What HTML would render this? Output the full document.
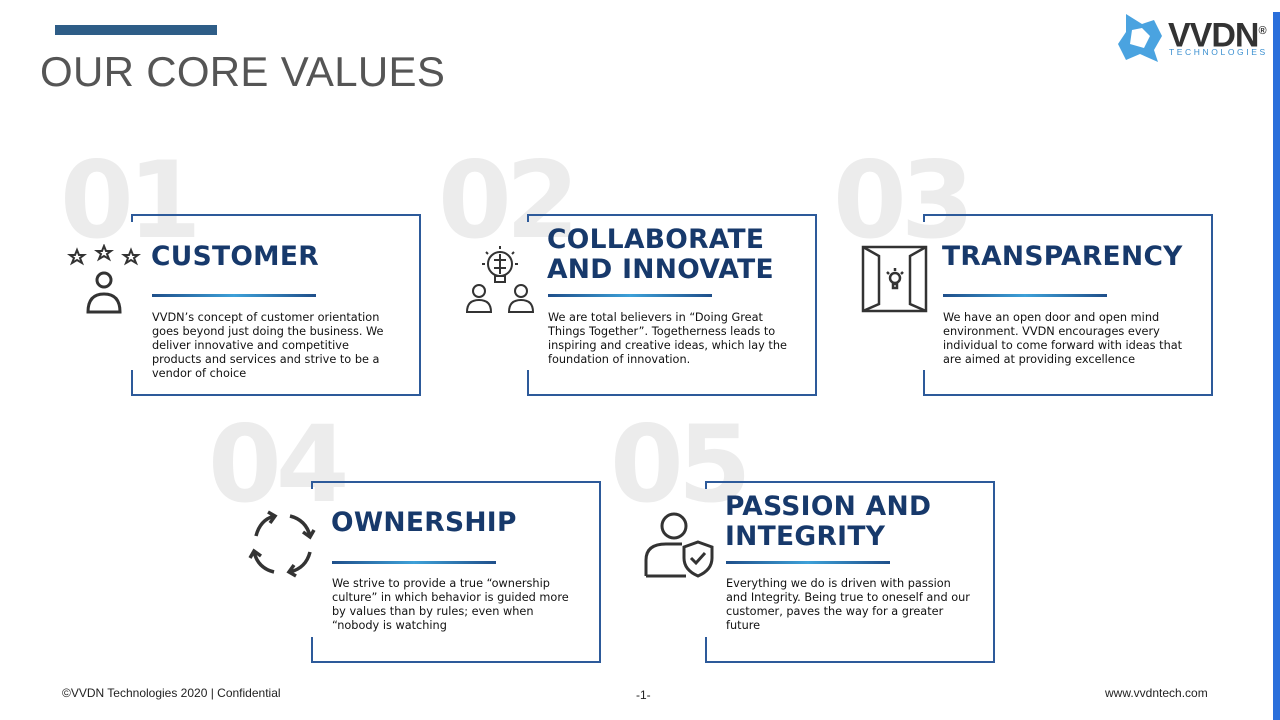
<!DOCTYPE html>
<html><head><meta charset="utf-8"><style>
*{margin:0;padding:0;box-sizing:border-box}
body{width:1280px;height:720px;background:#fff;position:relative;overflow:hidden;font-family:"Liberation Sans",sans-serif}
.abs{position:absolute}
.num{position:absolute;font-family:"DejaVu Sans","Liberation Sans",sans-serif;font-weight:bold;font-size:106px;color:#ececec;letter-spacing:-6px;line-height:1}
.card{position:absolute;width:290px;height:182px;border-top:2px solid #2d5a9a;border-right:2px solid #2d5a9a;border-bottom:2px solid #2d5a9a}
.card .lb{position:absolute;left:0;bottom:0;width:2px;height:24px;background:#2d5a9a}
.card .lt{position:absolute;left:0;top:0;width:2px;height:6px;background:#2d5a9a}
.ttl{position:absolute;font-family:"DejaVu Sans","Liberation Sans",sans-serif;font-weight:bold;font-size:26.5px;color:#17396b;line-height:30px;letter-spacing:0.3px;white-space:nowrap}
.ul{position:absolute;height:3px;width:164px;background:linear-gradient(90deg,#1f4f8a,#3da0d8,#1f4f8a)}
.txt{position:absolute;font-family:"DejaVu Sans","Liberation Sans",sans-serif;font-size:11.3px;line-height:14px;color:#111;width:248px}
</style></head><body>
<div class="abs" style="left:55px;top:25px;width:162px;height:10px;background:#2e5d87"></div>
<div class="abs" style="left:40px;top:46px;font-size:42px;color:#555;letter-spacing:0.3px;line-height:52px">OUR CORE VALUES</div>
<div class="abs" style="left:1273px;top:12px;width:7px;height:708px;background:#2a6fdb"></div>
<div class="abs" style="left:1112px;top:10px;width:160px;height:56px">
<svg width="56" height="56" viewBox="0 0 56 56" style="position:absolute;left:0;top:0"><path d="M14 4 L30 14 L42 10 L50 26 L42 40 L46 52 L28 44 L14 50 L6 34 L14 22 Z M20 20 L18 34 L32 38 L38 26 L30 18 Z" fill="#4aa3e0" fill-rule="evenodd"/></svg>
<div style="position:absolute;left:56px;top:4px;font-size:34px;font-weight:bold;color:#333;letter-spacing:-1px;line-height:34px">VVDN<sup style="font-size:11px">®</sup></div>
<div style="position:absolute;left:57px;top:37px;font-size:8.5px;color:#3a8fd0;letter-spacing:2.6px">TECHNOLOGIES</div>
</div>

<div class="num" style="left:60px;top:148px">01</div>
<div class="num" style="left:438px;top:148px">02</div>
<div class="num" style="left:833px;top:148px">03</div>
<div class="num" style="left:208px;top:412px">04</div>
<div class="num" style="left:610px;top:412px">05</div>

<div class="card" style="left:131px;top:214px"><div class="lb"></div><div class="lt"></div></div>
<div class="card" style="left:527px;top:214px"><div class="lb"></div><div class="lt"></div></div>
<div class="card" style="left:923px;top:214px"><div class="lb"></div><div class="lt"></div></div>
<div class="card" style="left:311px;top:481px"><div class="lb"></div><div class="lt"></div></div>
<div class="card" style="left:705px;top:481px"><div class="lb"></div><div class="lt"></div></div>

<div class="ttl" style="left:151px;top:242px">CUSTOMER</div>
<div class="ul" style="left:152px;top:294px"></div>
<div class="txt" style="left:152px;top:311px">VVDN’s concept of customer orientation goes beyond just doing the business. We deliver innovative and competitive products and services and strive to be a vendor of choice</div>

<div class="ttl" style="left:547px;top:225px">COLLABORATE<br>AND INNOVATE</div>
<div class="ul" style="left:548px;top:294px"></div>
<div class="txt" style="left:548px;top:311px">We are total believers in “Doing Great Things Together”. Togetherness leads to inspiring and creative ideas, which lay the foundation of innovation.</div>

<div class="ttl" style="left:942px;top:242px">TRANSPARENCY</div>
<div class="ul" style="left:943px;top:294px"></div>
<div class="txt" style="left:943px;top:311px">We have an open door and open mind environment. VVDN encourages every individual to come forward with ideas that are aimed at providing excellence</div>

<div class="ttl" style="left:331px;top:508px">OWNERSHIP</div>
<div class="ul" style="left:332px;top:561px"></div>
<div class="txt" style="left:332px;top:577px">We strive to provide a true “ownership culture” in which behavior is guided more by values than by rules; even when “nobody is watching</div>

<div class="ttl" style="left:725px;top:492px">PASSION AND<br>INTEGRITY</div>
<div class="ul" style="left:726px;top:561px"></div>
<div class="txt" style="left:726px;top:577px">Everything we do is driven with passion and Integrity. Being true to oneself and our customer, paves the way for a greater future</div>

<svg class="abs" style="left:64px;top:244px" width="80" height="74" viewBox="0 0 80 74" fill="none" stroke="#333" stroke-width="2">
<polygon points="13,6 15,11 20,11 16,14 18,19 13,16 8,19 10,14 6,11 11,11"/>
<polygon points="40,2 42,7 47,7 43,10 45,15 40,12 35,15 37,10 33,7 38,7"/>
<polygon points="67,6 69,11 74,11 70,14 72,19 67,16 62,19 64,14 60,11 65,11"/>
<circle cx="40" cy="36" r="7" stroke-width="3"/><path d="M24 68 Q24 50 40 50 Q56 50 56 68 Z" stroke-width="3"/></svg>

<svg class="abs" style="left:462px;top:244px" width="76" height="72" viewBox="0 0 76 72" fill="none" stroke="#333" stroke-width="2">
<circle cx="38" cy="20" r="12"/><path d="M33 32 h10 v6 h-10 z"/><path d="M38 10 v20 M32 16 h12 M32 24 h12"/>
<path d="M38 2 v3 M24 8 l2 2 M52 8 l-2 2 M20 20 h3 M53 20 h3"/>
<circle cx="17" cy="47" r="6"/><path d="M5 68 Q5 56 17 56 Q29 56 29 68 Z"/>
<circle cx="59" cy="47" r="6"/><path d="M47 68 Q47 56 59 56 Q71 56 71 68 Z"/></svg>

<svg class="abs" style="left:861px;top:244px" width="68" height="70" viewBox="0 0 68 70" fill="none" stroke="#333" stroke-width="2.5">
<rect x="2" y="3" width="63" height="64"/><path d="M2 3 L18 12 V60 L2 67 M65 3 L49 12 V60 L65 67"/>
<circle cx="34" cy="34" r="5"/><path d="M32 40 h4 v4 h-4z M34 24 v3 M26 28 l2 2 M42 28 l-2 2"/></svg>

<svg class="abs" style="left:246px;top:508px" width="72" height="72" viewBox="0 0 72 72" fill="none" stroke="#333" stroke-width="3.5">
<path d="M10 28 Q14 12 28 8"/><path d="M22 4 l7 4 -5 7"/>
<path d="M44 8 Q60 12 64 28"/><path d="M68 22 l-4 7 -7 -5"/>
<path d="M64 44 Q60 60 44 64"/><path d="M50 68 l-7 -4 5 -7"/>
<path d="M28 64 Q12 60 8 44"/><path d="M4 50 l4 -7 7 5"/></svg>

<svg class="abs" style="left:642px;top:510px" width="76" height="70" viewBox="0 0 76 70" fill="none" stroke="#333" stroke-width="3">
<circle cx="32" cy="16" r="12"/><path d="M4 66 V50 Q4 34 24 34 H40 M4 66 H44"/>
<path d="M56 32 L70 37 V48 Q70 60 56 66 Q42 60 42 48 V37 Z"/><path d="M49 48 l5 5 9 -10"/></svg>

<div class="abs" style="left:62px;top:686px;font-size:12px;color:#222">©VVDN Technologies 2020 | Confidential</div>
<div class="abs" style="left:636px;top:688px;font-size:12px;color:#222">-1-</div>
<div class="abs" style="left:1105px;top:686px;font-size:12px;color:#222">www.vvdntech.com</div>
</body></html>
